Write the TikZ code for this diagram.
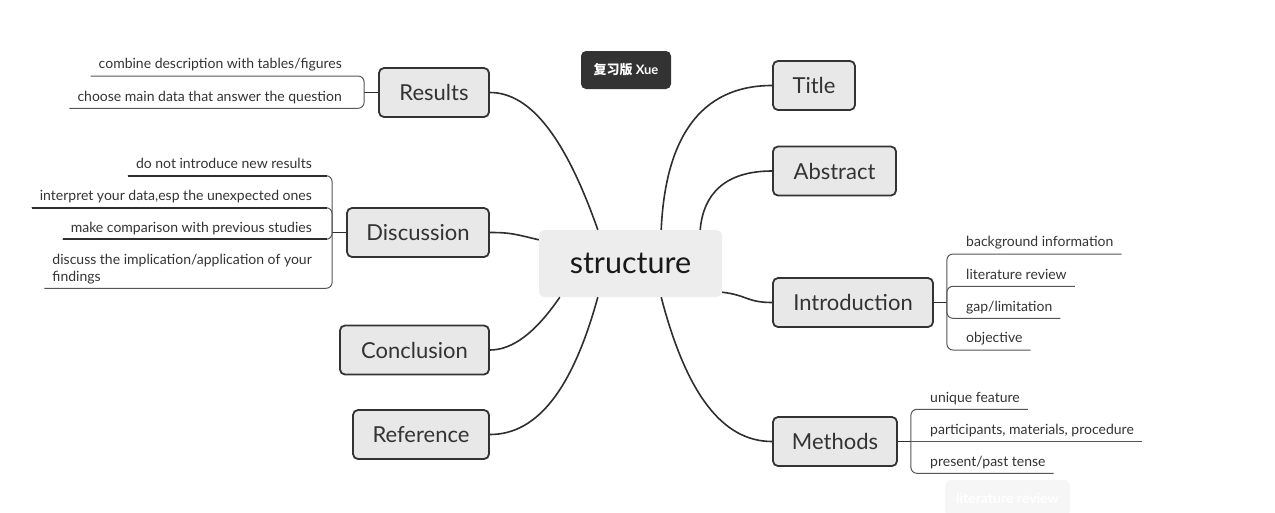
\documentclass[tikz,border=0pt]{standalone}
\usepackage{fontspec}
\setmainfont{Lato}
\newfontfamily\cjk{Noto Sans CJK SC}
\definecolor{bdcol}{HTML}{333333}
\definecolor{brfill}{HTML}{E8E8E8}
\definecolor{cfill}{HTML}{EDEDED}
\definecolor{txcol}{HTML}{333333}
\definecolor{lncol}{HTML}{2E2E2E}
\definecolor{sbcol}{HTML}{555555}
\definecolor{dkfill}{HTML}{333333}
\definecolor{fnfill}{HTML}{F6F6F6}
\begin{document}
\begin{tikzpicture}[x=1pt,y=-1pt,
 branch/.style={draw=bdcol, line width=1.8pt, fill=brfill, rounded corners=5pt, minimum height=49pt, inner sep=0pt, font=\fontsize{22}{26}\selectfont, text=txcol},
 sub/.style={inner xsep=8pt, inner ysep=4pt, text height=10pt, text depth=3pt, font=\fontsize{14}{16}\selectfont, text=txcol},
 conn/.style={draw=lncol, line width=1.6pt},
 subln/.style={draw=sbcol, line width=1pt, rounded corners=6pt},
 thickln/.style={draw=lncol, line width=1.8pt}]
\useasboundingbox (0,0) rectangle (1275,512);

% central
\node[fill=cfill, rounded corners=6pt, minimum width=183pt, minimum height=67pt, inner sep=0pt, font=\fontsize{30.5}{36}\selectfont, text=black!90] (c) at (630.5,263.5) {structure};

% label boxes
\node[fill=dkfill, rounded corners=5pt, minimum width=90pt, minimum height=38pt, inner sep=0pt, text=white, font=\fontsize{13}{15}\selectfont\bfseries] (tag) at (626,70) {{\cjk\bfseries 复习版} Xue};
\node[fill=fnfill, rounded corners=6pt, minimum width=125pt, minimum height=36pt, inner sep=0pt, text=white, font=\fontsize{14}{16}\selectfont\bfseries] (faint) at (1007.5,498) {literature review};

% branches
\node[branch, minimum width=82pt] (title) at (814,85.5) {Title};
\node[branch, minimum width=123pt] (abs) at (834.5,171) {Abstract};
\node[branch, minimum width=160pt] (intro) at (853,302.5) {Introduction};
\node[branch, minimum width=124pt] (meth) at (835,441.5) {Methods};
\node[branch, minimum width=110pt] (res) at (434,92.5) {Results};
\node[branch, minimum width=142pt] (disc) at (418,232.5) {Discussion};
\node[branch, minimum width=149pt] (concl) at (414.5,350) {Conclusion};
\node[branch, minimum width=136pt] (ref) at (421,434.5) {Reference};

% connectors from centre
\draw[conn] ([xshift=-61pt]c.north east) .. controls +(4,-90) and +(-73,0) .. (title.west);
\draw[conn] ([xshift=-22pt]c.north east) .. controls +(3,-35) and +(-48,0) .. (abs.west);
\draw[conn] ([yshift=5pt]c.south east) .. controls +(25,3) and +(-25,0) .. (intro.west);
\draw[conn] ([xshift=-61pt]c.south east) .. controls +(25,96) and +(-50,0) .. (meth.west);
\draw[conn] ([xshift=59pt]c.north west) .. controls +(-32,-91) and +(41,0) .. (res.east);
\draw[conn] ([yshift=-10pt]c.north west) .. controls +(-25,-6) and +(20,0) .. (disc.east);
\draw[conn] ([xshift=21pt]c.south west) .. controls +(-24,35) and +(23,0) .. (concl.east);
\draw[conn] ([xshift=59pt]c.south west) .. controls +(-25,91) and +(48,0) .. (ref.east);

% Results subtopics
\node[sub, anchor=south east] (r1) at (350,76) {combine description with tables/figures};
\node[sub, anchor=south east] (r2) at (350,108.3) {choose main data that answer the question};
\draw[conn, line width=1.2pt] (res.west) -- ++(-14,0) coordinate (rb);
\draw[subln] (rb) |- (r1.south west);
\draw[subln] (rb) |- (r2.south west);

% Discussion subtopics
\node[sub, anchor=south east] (d1) at (320,175.7) {do not introduce new results};
\node[sub, anchor=south east] (d2) at (320,207.7) {interpret your data,esp the unexpected ones};
\node[sub, anchor=south east] (d3) at (320,239.3) {make comparison with previous studies};
\node[sub, anchor=south east, text height=, text depth=, align=left, font=\fontsize{14}{16.7}\selectfont] (d4) at (320,288.3) {discuss the implication/application of your\\findings};
\draw[conn, line width=1.2pt] (disc.west) -- ++(-14,0) coordinate (db);
\draw[subln] (db) |- (d1.south west);
\draw[subln] (db) |- (d2.south west);
\draw[subln] (db) |- (d3.south west);
\draw[subln] (db) |- (d4.south west);
\draw[thickln] (d1.south west) -- ([xshift=7pt]d1.south east);
\draw[thickln] (d2.south west) -- ([xshift=7pt]d2.south east);
\draw[thickln] (d3.south west) -- ([xshift=7pt]d3.south east);

% Introduction subtopics
\node[sub, anchor=south west] (i1) at (958,254) {background information};
\node[sub, anchor=south west] (i2) at (958,286.3) {literature review};
\node[sub, anchor=south west] (i3) at (958,318.3) {gap/limitation};
\node[sub, anchor=south west] (i4) at (958,350) {objective};
\draw[conn, line width=1.2pt] (intro.east) -- ++(13,0) coordinate (ib);
\draw[subln] (ib) |- (i1.south east);
\draw[subln] (ib) |- (i2.south east);
\draw[subln] (ib) |- (i3.south east);
\draw[subln] (ib) |- (i4.south east);

% Methods subtopics
\node[sub, anchor=south west] (m1) at (922,409.3) {unique feature};
\node[sub, anchor=south west] (m2) at (922,441.5) {participants, materials, procedure};
\node[sub, anchor=south west] (m3) at (922,473.3) {present/past tense};
\draw[conn, line width=1.2pt] (meth.east) -- ++(13,0) coordinate (mb);
\draw[subln] (mb) |- (m1.south east);
\draw[subln] (mb) -- (m2.south east);
\draw[subln] (mb) |- (m3.south east);
\end{tikzpicture}
\end{document}
